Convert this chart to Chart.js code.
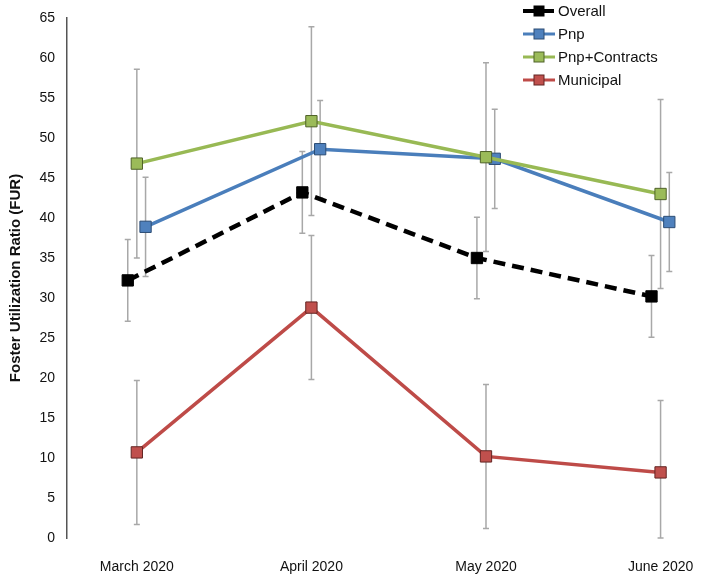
<!DOCTYPE html>
<html>
<head>
<meta charset="utf-8">
<script src="https://cdn.jsdelivr.net/npm/chart.js@4.4.0/dist/chart.umd.min.js"></script>
<style>
html, body { margin: 0; padding: 0; background: #fff; }
#wrap { width: 702px; height: 577px; }
</style>
</head>
<body>
<div id="wrap"><canvas id="grafico"></canvas></div>
<script>
// valores
const meses = ['March 2020', 'April 2020', 'May 2020', 'June 2020'];
const ticksY = [0, 5, 10, 15, 20, 25, 30, 35, 40, 45, 50, 55, 60, 65];

const overall = [32.2, 43.2, 35.0, 30.2];
const overallErro = [5.1, 5.1, 5.1, 5.1];

const pnp = [38.9, 48.6, 47.4, 39.5];
const pnpErro = [6.2, 6.1, 6.2, 6.2];

const pnpContracts = [46.8, 52.1, 47.6, 43.0];
const pnpContractsErro = [11.8, 11.8, 11.8, 11.8];

const municipal = [10.7, 28.8, 10.2, 8.2];
const municipalErro = [9.0, 9.0, 9.0, 9.0];

Chart.defaults.font.family = '"Liberation Sans", Arial, sans-serif';
Chart.defaults.color = '#111';

// cada serie fica um pouco deslocada do centro da categoria
const pontos = (valores, desvio) => valores.map((v, i) => ({ x: i + desvio, y: v }));

const barrasErro = {
    id: 'barrasErro',
    beforeDatasetsDraw(chart) {
        const { ctx, scales: { y } } = chart;
        ctx.save();
        ctx.strokeStyle = '#a8a8a8';
        ctx.lineWidth = 1.5;
        chart.data.datasets.forEach((ds, i) => {
            const meta = chart.getDatasetMeta(i);
            meta.data.forEach((pt, j) => {
                const v = ds.data[j].y;
                const e = ds.erros[j];
                const topo = y.getPixelForValue(Math.min(v + e, y.max));
                const base = y.getPixelForValue(Math.max(v - e, y.min));
                ctx.beginPath();
                ctx.moveTo(pt.x, topo);
                ctx.lineTo(pt.x, base);
                ctx.moveTo(pt.x - 3, topo);
                ctx.lineTo(pt.x + 3, topo);
                ctx.moveTo(pt.x - 3, base);
                ctx.lineTo(pt.x + 3, base);
                ctx.stroke();
            });
        });
        ctx.restore();
    }
};

const legenda = {
    id: 'legenda',
    afterDraw(chart) {
        const ctx = chart.ctx;
        const x0 = 523;
        let y0 = 11;
        chart.data.datasets.forEach((ds) => {
            ctx.save();
            ctx.strokeStyle = ds.borderColor;
            ctx.lineWidth = ds.borderWidth - 0.5;
            ctx.setLineDash(ds.borderDash || []);
            ctx.beginPath();
            ctx.moveTo(x0, y0);
            ctx.lineTo(x0 + 32, y0);
            ctx.stroke();
            ctx.setLineDash([]);
            ctx.fillStyle = ds.pointBackgroundColor;
            ctx.strokeStyle = ds.pointBorderColor;
            ctx.lineWidth = 1;
            ctx.fillRect(x0 + 11, y0 - 5, 10, 10);
            ctx.strokeRect(x0 + 11, y0 - 5, 10, 10);
            ctx.fillStyle = '#111';
            ctx.font = '15px "Liberation Sans", Arial, sans-serif';
            ctx.textBaseline = 'middle';
            ctx.fillText(ds.label, x0 + 35, y0 + 1);
            ctx.restore();
            y0 += 23;
        });
    }
};

const serie = (rotulo, valores, erros, desvio, linha, preenchimento, borda, extra) => Object.assign({
    label: rotulo,
    data: pontos(valores, desvio),
    erros: erros,
    borderColor: linha,
    borderWidth: 3.5,
    pointStyle: 'rect',
    pointRadius: 8,
    pointHoverRadius: 8,
    pointBackgroundColor: preenchimento,
    pointBorderColor: borda,
    pointBorderWidth: 1,
    tension: 0
}, extra);

new Chart(document.getElementById('grafico'), {
    type: 'line',
    data: {
        datasets: [
            serie('Overall', overall, overallErro, -0.052, '#000', '#000', '#000', { borderWidth: 4.5, borderDash: [12, 7], order: 1 }),
            serie('Pnp', pnp, pnpErro, 0.05, '#4a7ebb', '#4f81bd', '#2c4d75', { order: 2 }),
            serie('Pnp+Contracts', pnpContracts, pnpContractsErro, 0, '#98b954', '#9bbb59', '#4f6228', { order: 0 }),
            serie('Municipal', municipal, municipalErro, 0, '#be4b48', '#c0504d', '#632523', { order: 3 })
        ]
    },
    options: {
        responsive: true,
        maintainAspectRatio: false,
        animation: false,
        layout: { padding: { top: 18, right: 10, bottom: 0, left: 0 } },
        plugins: {
            legend: { display: false },
            tooltip: { enabled: false }
        },
        scales: {
            x: {
                type: 'linear',
                min: -0.4,
                max: 3.18,
                grid: { display: false },
                border: { display: false },
                afterBuildTicks: (s) => { s.ticks = meses.map((m, i) => ({ value: i })); },
                afterFit: (s) => { s.height = 39; s.paddingLeft = 0; s.paddingRight = 0; },
                ticks: {
                    callback: (v) => meses[v],
                    autoSkip: false,
                    maxRotation: 0,
                    padding: 13,
                    font: { size: 14 }
                }
            },
            y: {
                min: 0,
                max: 65,
                grid: { display: false, drawTicks: false },
                border: { color: '#555', width: 1.5 },
                afterBuildTicks: (s) => { s.ticks = ticksY.map((v) => ({ value: v })); },
                afterFit: (s) => { s.width = 67; s.paddingTop = 0; s.paddingBottom = 0; },
                ticks: { padding: 12, font: { size: 14 } },
                title: {
                    display: true,
                    text: 'Foster Utilization Ratio (FUR)',
                    font: { size: 15, weight: 'bold' },
                    padding: { top: 7, bottom: 0 }
                }
            }
        }
    },
    plugins: [barrasErro, legenda]
});
</script>
</body>
</html>
